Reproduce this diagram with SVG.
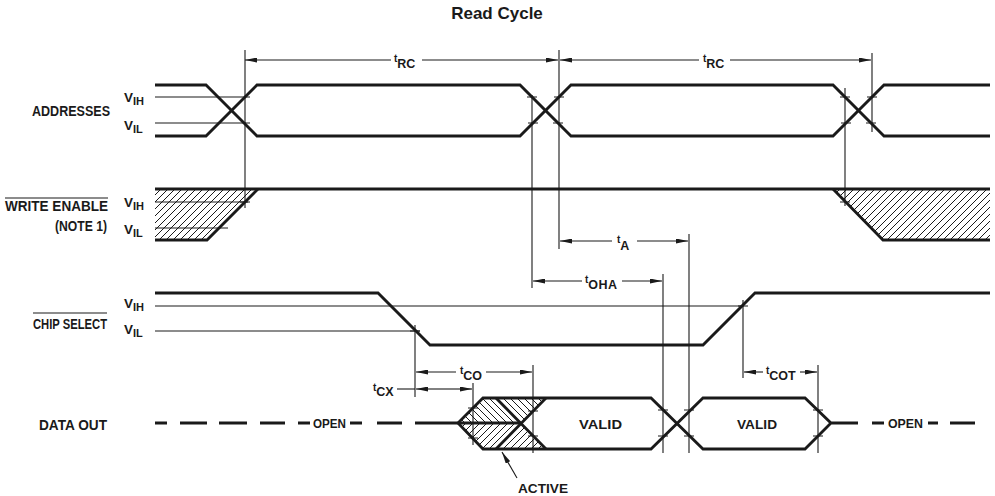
<svg xmlns="http://www.w3.org/2000/svg" width="995" height="496" viewBox="0 0 995 496">
<style>
.sig{fill:none;stroke:#1a1a1a;stroke-width:2.8;stroke-linejoin:miter;stroke-linecap:butt}
.thin{fill:none;stroke:#1a1a1a;stroke-width:1.1}
.dim{fill:none;stroke:#1a1a1a;stroke-width:1.1;marker-end:url(#ah)}
.lbl{font-family:"Liberation Sans",Arial,sans-serif;font-weight:bold;fill:#1a1a1a}
.t{font-size:10px}
.s{font-size:12.5px}
</style>
<defs>
<marker id="ah" markerUnits="userSpaceOnUse" viewBox="0 0 12 5" refX="12" refY="2.5" markerWidth="12" markerHeight="5" orient="auto">
<path d="M0,0 L12,2.5 L0,5 z" fill="#1a1a1a"/>
</marker>
<pattern id="hf" patternUnits="userSpaceOnUse" width="7" height="7">
<path d="M0,7 L7,0 M-1,1 L1,-1 M6,8 L8,6" stroke="#1a1a1a" stroke-width="1"/>
</pattern>
<pattern id="hb" patternUnits="userSpaceOnUse" width="7" height="7">
<path d="M0,0 L7,7 M-1,6 L1,8 M6,-1 L8,1" stroke="#1a1a1a" stroke-width="1"/>
</pattern>
</defs>
<rect width="995" height="496" fill="#ffffff"/>

<text class="lbl" x="497" y="19" font-size="17" text-anchor="middle">Read Cycle</text>

<g id="addresses">
<text class="lbl" x="32" y="115.5" font-size="14" textLength="78" lengthAdjust="spacingAndGlyphs">ADDRESSES</text>
<text class="lbl" x="124" y="102" font-size="13.5">V<tspan dy="3" font-size="11">IH</tspan></text>
<text class="lbl" x="124" y="130" font-size="13.5">V<tspan dy="3" font-size="11">IL</tspan></text>
<path class="thin" d="M155,97 H250 M155,123 H250"/>
<path class="sig" d="M155,85 H206 L257,136 H520 L571,85 H833 L884,136 H990"/>
<path class="sig" d="M155,136 H206 L257,85 H520 L571,136 H833 L884,85 H990"/>
<path class="thin" d="M527,97 H537 M528,123 H538 M553,123 H563 M554,97 H564 M840,97 H850 M841,123 H851 M866,123 H876 M867,97 H877"/>
</g>

<g id="write-enable">
<text class="lbl" x="5" y="211" font-size="14" textLength="103" lengthAdjust="spacingAndGlyphs">WRITE ENABLE</text>
<path class="thin" d="M5,198 H108"/>
<text class="lbl" x="55" y="231" font-size="14" textLength="52" lengthAdjust="spacingAndGlyphs">(NOTE 1)</text>
<text class="lbl" x="124" y="207" font-size="13.5">V<tspan dy="3" font-size="11">IH</tspan></text>
<text class="lbl" x="124" y="234" font-size="13.5">V<tspan dy="3" font-size="11">IL</tspan></text>
<polygon points="155,189 258,189 207,240 155,240" fill="url(#hf)"/>
<polygon points="833,189 990,189 990,240 883,240" fill="url(#hf)"/>
<path class="thin" d="M155,202 H248 M155,228 H228"/>
<path class="sig" d="M155,189 H990"/>
<path class="sig" d="M258,189 L207,240 H155"/>
<path class="sig" d="M833,189 L883,240 H990"/>
<path class="thin" d="M240,202 H250 M840,202 H850"/>
</g>

<g id="chip-select">
<text class="lbl" x="33" y="328.5" font-size="14" textLength="74" lengthAdjust="spacingAndGlyphs">CHIP SELECT</text>
<path class="thin" d="M33,313 H107"/>
<text class="lbl" x="124" y="308" font-size="13.5">V<tspan dy="3" font-size="11">IH</tspan></text>
<text class="lbl" x="124" y="334" font-size="13.5">V<tspan dy="3" font-size="11">IL</tspan></text>
<path class="thin" d="M155,306 H743 M155,331 H420"/>
<path class="sig" d="M155,293 H378 L430,345 H703 L755,293 H990"/>
<path class="thin" d="M410,331 H420 M738,306 H748"/>
</g>

<g id="data-out">
<text class="lbl" x="39" y="429.5" font-size="14" textLength="68" lengthAdjust="spacingAndGlyphs">DATA OUT</text>
<polygon points="458,423 483,398 546,398 521,423" fill="url(#hb)"/>
<polygon points="458,423 521,423 546,449 483,449" fill="url(#hf)"/>
<path class="sig" d="M155,423 H167 M180,423 H207 M219,423 H247 M260,423 H285 M298,423 H310 M350,423 H362 M377,423 H402 M415,423 H521"/>
<text class="lbl" x="313" y="428" font-size="12" textLength="33" lengthAdjust="spacingAndGlyphs">OPEN</text>
<path class="sig" d="M546,398 H483 L458,423 L483,449 H546"/>
<path class="sig" d="M496,398 L546,449 M496,449 L546,398"/>
<path class="sig" d="M546,398 H651 L703,449 H805 L831,423 M546,449 H651 L703,398 H805 L831,423 H858"/>
<path class="sig" d="M872,423 H884 M928,423 H938 M950,423 H975"/>
<text class="lbl" x="888" y="428" font-size="12" textLength="35" lengthAdjust="spacingAndGlyphs">OPEN</text>
<text class="lbl" x="579" y="428.5" font-size="13.5" textLength="43" lengthAdjust="spacingAndGlyphs">VALID</text>
<text class="lbl" x="737" y="428.5" font-size="13.5" textLength="40" lengthAdjust="spacingAndGlyphs">VALID</text>
<path class="thin" d="M468,408 H478 M468,438 H478 M528,411 H538 M528,436 H538 M658,410 H668 M658,436 H668 M684,410 H694 M684,436 H694 M813,410 H823 M813,436 H823"/>
<text class="lbl" x="518" y="493" font-size="13.5" textLength="50" lengthAdjust="spacingAndGlyphs">ACTIVE</text>
<path class="dim" d="M517,478 L502,452"/>
</g>

<g id="connectors">
<path class="thin" d="M245,50 V208 M532,95 V288 M559,50 V249 M845,88 V206 M872,53 V132 M663,274 V453 M689,234 V453 M743,300 V378 M415,325 V397 M473,383 V445 M533,365 V453 M818,365 V453"/>
<path class="dim" d="M391,60 H245"/>
<path class="dim" d="M422,60 H558"/>
<path class="dim" d="M699,60 H560"/>
<path class="dim" d="M730,60 H871"/>
<path class="dim" d="M612,241 H560"/>
<path class="dim" d="M637,241 H688"/>
<path class="dim" d="M582,281 H533"/>
<path class="dim" d="M622,281 H662"/>
<path class="dim" d="M456,372 H416"/>
<path class="dim" d="M486,372 H532"/>
<path class="thin" d="M397,389 H415"/>
<path class="dim" d="M444,389 H416"/>
<path class="dim" d="M444,389 H472"/>
<path class="dim" d="M763,372 H744"/>
<path class="dim" d="M800,372 H817"/>
<text class="lbl" x="394" y="62"><tspan class="t">t</tspan><tspan class="s" dy="6">RC</tspan></text>
<text class="lbl" x="703" y="62"><tspan class="t">t</tspan><tspan class="s" dy="6">RC</tspan></text>
<text class="lbl" x="617" y="243"><tspan class="t">t</tspan><tspan class="s" dy="7">A</tspan></text>
<text class="lbl" x="585" y="283"><tspan class="t">t</tspan><tspan class="s" dy="6" letter-spacing="0.5">OHA</tspan></text>
<text class="lbl" x="460" y="374"><tspan class="t">t</tspan><tspan class="s" dy="6">CO</tspan></text>
<text class="lbl" x="373" y="391"><tspan class="t">t</tspan><tspan class="s" dy="5">CX</tspan></text>
<text class="lbl" x="766" y="374"><tspan class="t">t</tspan><tspan class="s" dy="6">COT</tspan></text>
</g>
</svg>
